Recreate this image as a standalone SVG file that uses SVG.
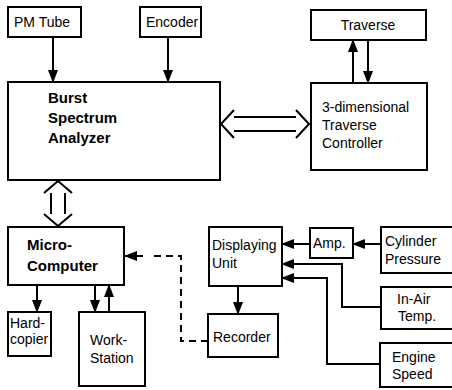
<svg xmlns="http://www.w3.org/2000/svg" width="452" height="390" viewBox="0 0 452 390">
<defs>
<marker id="ah" markerUnits="userSpaceOnUse" markerWidth="13" markerHeight="10" refX="12" refY="5" orient="auto">
<path d="M0,0 L13,5 L0,10 z" fill="#000"/>
</marker>
<style>
.box{fill:#fff;stroke:#000;stroke-width:2}
.t{font-family:"Liberation Sans",Arial,sans-serif;font-size:14px;fill:#000}
.b{font-family:"Liberation Sans",Arial,sans-serif;font-size:15px;font-weight:bold;fill:#000}
.c{fill:none;stroke:#000;stroke-width:2}
.a{marker-end:url(#ah)}
.d{stroke-dasharray:7 5}
</style>
</defs>
<rect width="452" height="390" fill="#fff"/>
<g id="connectors">
<path class="c a" d="M53,37 V82"/>
<path class="c a" d="M168,37 V82"/>
<path class="c a" d="M353,83 V40"/>
<path class="c a" d="M368,40 V83"/>
<path class="c" d="M234,117 H296 M234,131 H296"/>
<path class="c" d="M234,110 L221,124 L234,138 M296,110 L309,124 L296,138"/>
<path class="c" d="M51,193 V214 M65,193 V214"/>
<path class="c" d="M44,193 L58,181 L72,193 M44,214 L58,226 L72,214"/>
<path class="c a" d="M37,285 V312"/>
<path class="c a" d="M95,285 V312"/>
<path class="c a" d="M109,312 V285"/>
<path class="c d" d="M208,341 H181 V256 H150"/>
<path class="c a" d="M143,256 H125"/>
<path class="c a" d="M238,286 V314"/>
<path class="c a" d="M310,244 H282"/>
<path class="c a" d="M381,244 H353"/>
<path class="c a" d="M381,307 H342 V264 H282"/>
<path class="c a" d="M380,364 H327 V278 H282"/>
</g>
<g id="pm-tube"><rect class="box" x="8" y="7" width="73" height="30"/><text class="t" x="14" y="27">PM Tube</text></g>
<g id="encoder"><rect class="box" x="140" y="7" width="61" height="30"/><text class="t" x="146" y="27">Encoder</text></g>
<g id="bsa"><rect class="box" x="8" y="82" width="212" height="98"/><text class="b" x="48" y="103">Burst</text><text class="b" x="48" y="123">Spectrum</text><text class="b" x="48" y="143">Analyzer</text></g>
<g id="traverse"><rect class="box" x="311" y="10" width="115" height="30"/><text class="t" x="368" y="30" text-anchor="middle">Traverse</text></g>
<g id="controller"><rect class="box" x="311" y="83" width="116" height="87"/><text class="t" x="322" y="112">3-dimensional</text><text class="t" x="322" y="130">Traverse</text><text class="t" x="322" y="148">Controller</text></g>
<g id="micro"><rect class="box" x="8" y="227" width="116" height="58"/><text class="b" x="27" y="250">Micro-</text><text class="b" x="27" y="271">Computer</text></g>
<g id="hardcopier"><rect class="box" x="8" y="312" width="43" height="44"/><text class="t" x="10" y="328">Hard-</text><text class="t" x="10" y="344">copier</text></g>
<g id="workstation"><rect class="box" x="79" y="312" width="66" height="74"/><text class="t" x="90" y="345">Work-</text><text class="t" x="90" y="363">Station</text></g>
<g id="displaying"><rect class="box" x="209" y="227" width="73" height="59"/><text class="t" x="212" y="250">Displaying</text><text class="t" x="212" y="268">Unit</text></g>
<g id="recorder"><rect class="box" x="208" y="314" width="70" height="43"/><text class="t" x="213" y="342">Recorder</text></g>
<g id="amp"><rect class="box" x="310" y="228" width="43" height="30"/><text class="t" x="313" y="248">Amp.</text></g>
<g id="cylinder"><rect class="box" x="381" y="227" width="80" height="46"/><text class="t" x="385" y="246">Cylinder</text><text class="t" x="385" y="264">Pressure</text></g>
<g id="inair"><rect class="box" x="381" y="287" width="80" height="42"/><text class="t" x="397" y="304">In-Air</text><text class="t" x="398" y="321">Temp.</text></g>
<g id="engine"><rect class="box" x="380" y="343" width="81" height="44"/><text class="t" x="392" y="362">Engine</text><text class="t" x="392" y="379">Speed</text></g>
</svg>
